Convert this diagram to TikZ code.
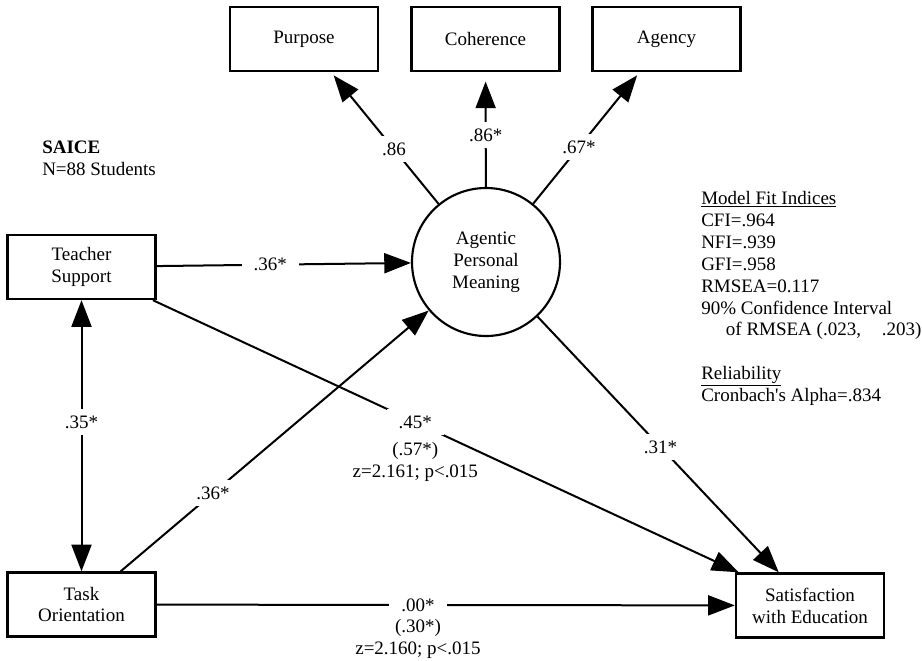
\documentclass[tikz,border=0pt]{standalone}
\usepackage{fontspec}
\setmainfont{Liberation Serif}
\usetikzlibrary{arrows.meta,positioning}
\tikzset{
  >={Triangle[length=20bp,width=15bp]},
  box/.style={draw, line width=1.8bp, minimum width=111bp, minimum height=48bp, align=center, inner sep=2bp},
  latent/.style={draw, circle, line width=1.6bp, minimum size=111bp, align=center, inner sep=0pt},
  path/.style={line width=1.5bp, ->},
  lbl/.style={fill=white, inner xsep=9bp, inner ysep=5bp, align=center},
  note/.style={inner sep=0pt, align=left, anchor=north west},
}

\begin{document}
\begin{tikzpicture}[x=0.75bp, y=-0.75bp, font=\fontsize{14.3}{16.5}\selectfont]
    \useasboundingbox (0,0) rectangle (922,661);
    % indicators of the latent factor
    \foreach \n/\x/\t in {pur/304/Purpose,coh/485.5/Coherence,age/666.5/Agency} {
      \node[box] (\n) at (\x,39) {\t};
    }
    \node[latent] (apm) at (486,262) {Agentic\\Personal\\Meaning};
    \node[box] (ts) at (81.5,267) {Teacher\\Support};
    \node[box] (to) at (81.5,604.5) {Task\\Orientation};
    \node[box] (sat) at (810,605.5) {Satisfaction\\with Education};

    \foreach \n/\p/\v/\s in {pur/.415/.86/3bp,coh/.45/.86*/7bp,age/.43/.67*/3bp} {
      \draw[path, shorten >=\s] (apm) -- node[lbl, pos=\p] {\v} (\n);
    }
    \draw[path] (ts) -- node[lbl, pos=.447] {.36*} (apm);
    \draw[path, <->] (ts) -- node[lbl, pos=.45] {.35*} (to);
    \draw[path] (to) -- node[lbl, pos=.3] {.36*} (apm);
    \draw[path] (apm) -- node[lbl, pos=.51] {.31*} (sat);
    \draw[path] (ts) -- node[lbl, pos=.448] (l45) {.45*} (sat);
    \node[below=3.5bp of l45, align=center, inner sep=1bp] (z45) {(.57*)\\z=2.161; p<.015};
    \draw[path] (to) -- node[lbl, pos=.452] (l00) {.00*} (sat);
    \node[below=-1bp of l00, align=center, inner sep=1bp] (z00) {(.30*)\\z=2.160; p<.015};

    % sample and fit information
    \node[note] (saice) at (42,141) {\textbf{SAICE}\\N=88 Students};
    \node[note] (fit) at (701,191) {\underline{Model Fit Indices}\\CFI=.964\\NFI=.939\\GFI=.958\\RMSEA=0.117\\90\% Confidence Interval\\\hspace*{1.3em}of RMSEA (.023,\hspace{1.1em}.203)};
    \node[note] (rel) at (701,366) {\underline{Reliability}\\Cronbach\textquotesingle s Alpha=.834};
  \end{tikzpicture}
\end{document}
